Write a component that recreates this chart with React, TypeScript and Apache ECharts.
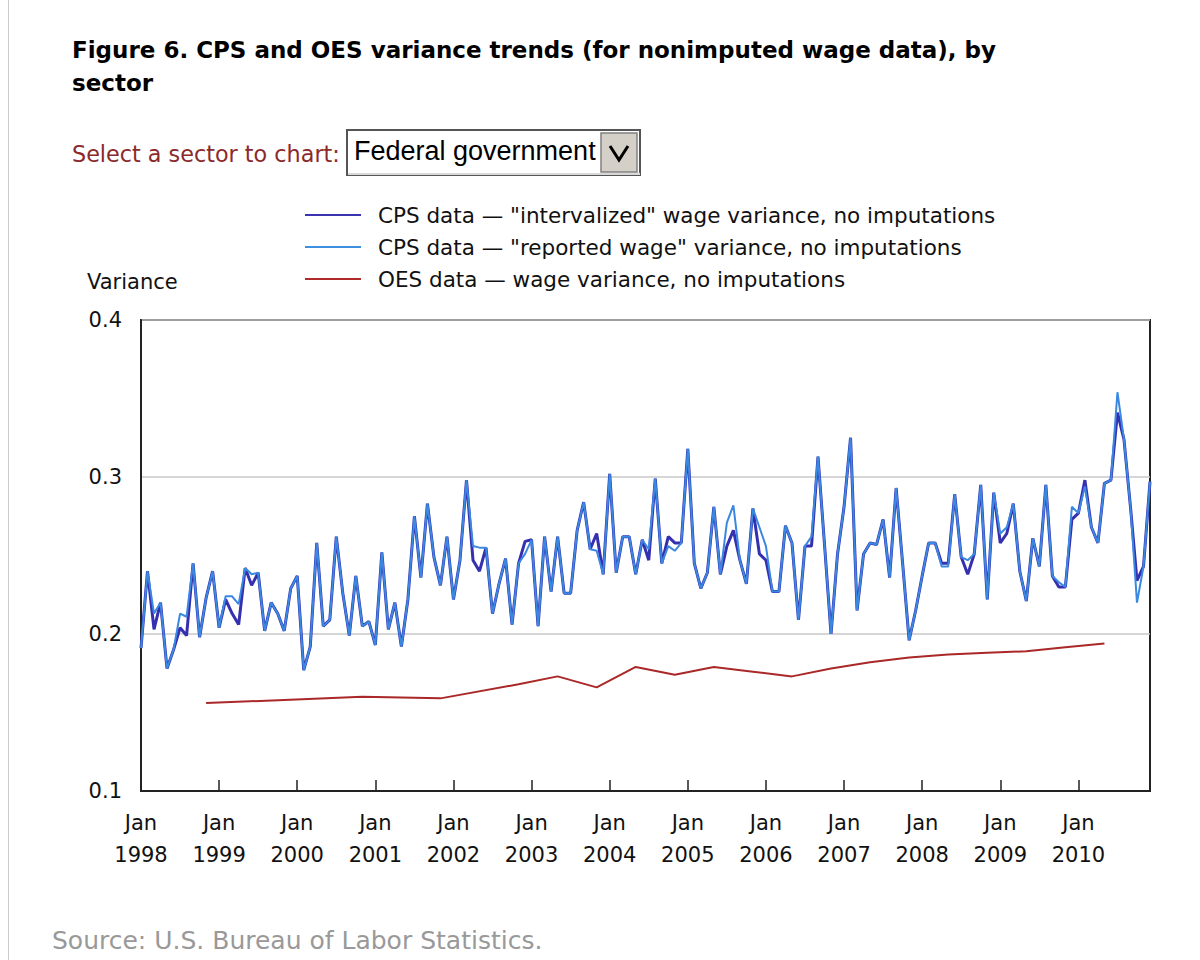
import React, { useEffect, useRef } from "react";
import * as echarts from "echarts";

const years = [1998, 1999, 2000, 2001, 2002, 2003, 2004, 2005, 2006, 2007, 2008, 2009, 2010];
const monthNums = ["01", "02", "03", "04", "05", "06", "07", "08", "09", "10", "11", "12"];
const categories: string[] = [];
years.forEach((y) => monthNums.forEach((m) => categories.push(`${y}-${m}`)));

const intervalized = [
  0.191, 0.240, 0.203, 0.220, 0.178, 0.190, 0.204, 0.199, 0.245, 0.198, 0.223, 0.240,
  0.204, 0.222, 0.213, 0.206, 0.242, 0.231, 0.239, 0.202, 0.220, 0.213, 0.202, 0.229,
  0.237, 0.177, 0.192, 0.258, 0.205, 0.209, 0.262, 0.226, 0.199, 0.237, 0.205, 0.208,
  0.193, 0.252, 0.203, 0.220, 0.192, 0.222, 0.275, 0.236, 0.283, 0.249, 0.231, 0.262,
  0.222, 0.247, 0.298, 0.247, 0.240, 0.255, 0.213, 0.232, 0.248, 0.206, 0.245, 0.259,
  0.260, 0.205, 0.262, 0.227, 0.262, 0.226, 0.226, 0.266, 0.284, 0.254, 0.264, 0.238,
  0.302, 0.239, 0.262, 0.262, 0.238, 0.260, 0.247, 0.299, 0.245, 0.262, 0.258, 0.258,
  0.318, 0.245, 0.229, 0.239, 0.281, 0.238, 0.256, 0.266, 0.247, 0.232, 0.280, 0.251,
  0.247, 0.227, 0.227, 0.269, 0.258, 0.209, 0.256, 0.256, 0.313, 0.257, 0.200, 0.251,
  0.281, 0.325, 0.215, 0.251, 0.258, 0.257, 0.273, 0.236, 0.293, 0.245, 0.196, 0.215,
  0.237, 0.258, 0.258, 0.245, 0.245, 0.289, 0.249, 0.238, 0.251, 0.295, 0.222, 0.290,
  0.258, 0.264, 0.283, 0.240, 0.221, 0.261, 0.243, 0.295, 0.237, 0.230, 0.230, 0.273,
  0.277, 0.298, 0.268, 0.258, 0.296, 0.298, 0.341, 0.324, 0.281, 0.234, 0.243, 0.297,
];

const reported = [
  0.191, 0.240, 0.213, 0.220, 0.178, 0.190, 0.213, 0.211, 0.245, 0.198, 0.223, 0.240,
  0.204, 0.224, 0.224, 0.219, 0.242, 0.238, 0.239, 0.202, 0.220, 0.213, 0.202, 0.229,
  0.237, 0.177, 0.192, 0.258, 0.205, 0.209, 0.262, 0.226, 0.199, 0.237, 0.205, 0.208,
  0.193, 0.252, 0.203, 0.220, 0.192, 0.222, 0.275, 0.236, 0.283, 0.249, 0.231, 0.262,
  0.222, 0.247, 0.298, 0.256, 0.255, 0.255, 0.213, 0.232, 0.248, 0.206, 0.245, 0.251,
  0.260, 0.205, 0.262, 0.227, 0.262, 0.226, 0.226, 0.266, 0.284, 0.254, 0.253, 0.238,
  0.302, 0.239, 0.262, 0.262, 0.238, 0.260, 0.254, 0.299, 0.245, 0.256, 0.253, 0.258,
  0.318, 0.245, 0.229, 0.239, 0.281, 0.238, 0.271, 0.282, 0.247, 0.232, 0.280, 0.268,
  0.256, 0.227, 0.227, 0.269, 0.258, 0.209, 0.256, 0.262, 0.313, 0.257, 0.200, 0.251,
  0.281, 0.325, 0.215, 0.251, 0.258, 0.257, 0.273, 0.236, 0.293, 0.245, 0.196, 0.215,
  0.237, 0.258, 0.258, 0.243, 0.243, 0.289, 0.249, 0.247, 0.251, 0.295, 0.222, 0.290,
  0.264, 0.268, 0.283, 0.240, 0.221, 0.261, 0.243, 0.295, 0.237, 0.233, 0.230, 0.281,
  0.277, 0.294, 0.268, 0.258, 0.296, 0.298, 0.354, 0.324, 0.281, 0.220, 0.243, 0.297,
];

const oesMonths = [
  "1998-11", "1999-11", "2000-11", "2001-11", "2002-11", "2003-05", "2003-11",
  "2004-05", "2004-11", "2005-05", "2005-11", "2006-05", "2006-11", "2007-05",
  "2007-11", "2008-05", "2008-11", "2009-05", "2009-11", "2010-05",
];
const oesValues = [
  0.156, 0.158, 0.160, 0.159, 0.168, 0.173, 0.166,
  0.179, 0.174, 0.179, 0.176, 0.173, 0.178, 0.182,
  0.185, 0.187, 0.188, 0.189, 0.1915, 0.194,
];

const yTicks = [0.1, 0.2, 0.3, 0.4];

const seriesNames = [
  'CPS data \u2014 "intervalized" wage variance, no imputations',
  'CPS data \u2014 "reported wage" variance, no imputations',
  "OES data \u2014 wage variance, no imputations",
];

const FONT = "DejaVu Sans";

export default function App() {
  const ref = useRef<HTMLDivElement>(null);

  useEffect(() => {
    if (!ref.current) return;
    const chart = echarts.init(ref.current, null, { renderer: "svg" });
    const oesData = categories.map((c) => {
      const k = oesMonths.indexOf(c);
      return k >= 0 ? oesValues[k] : null;
    });
    const isJan = (_i: number, v: string) => v.endsWith("-01");

    chart.setOption({
      animation: false,
      backgroundColor: "#ffffff",
      textStyle: { fontFamily: FONT },
      grid: {
        left: 141,
        right: 50,
        top: 320,
        bottom: 169,
        show: true,
        borderColor: "#222222",
        borderWidth: 2,
        containLabel: false,
      },
      legend: {
        orient: "vertical",
        left: 305,
        top: 204,
        padding: 0,
        itemWidth: 56,
        itemHeight: 2,
        itemGap: 10,
        icon: "rect",
        selectedMode: false,
        textStyle: {
          fontFamily: FONT,
          fontSize: 21.5,
          color: "#111111",
          padding: [0, 0, 0, 12],
        },
        data: seriesNames,
      },
      xAxis: {
        type: "category",
        data: categories,
        boundaryGap: false,
        axisLine: { show: true, lineStyle: { color: "#222222", width: 2 } },
        axisTick: {
          show: true,
          inside: true,
          length: 11,
          interval: isJan,
          lineStyle: { color: "#222222", width: 1.5 },
        },
        axisLabel: {
          interval: isJan,
          fontFamily: FONT,
          fontSize: 21,
          color: "#111111",
          lineHeight: 32,
          margin: 16,
          formatter: (v: string) => `Jan\n${v.slice(0, 4)}`,
        },
        splitLine: { show: false },
      },
      yAxis: {
        type: "value",
        min: yTicks[0],
        max: yTicks[yTicks.length - 1],
        interval: 0.1,
        axisLine: { show: true, lineStyle: { color: "#222222", width: 2 } },
        axisTick: { show: false },
        axisLabel: {
          fontFamily: FONT,
          fontSize: 21,
          color: "#111111",
          margin: 19,
          formatter: (v: number) => v.toFixed(1),
        },
        splitLine: { show: true, lineStyle: { color: "#c8c8c8", width: 1.5 } },
      },
      series: [
        {
          name: seriesNames[0],
          type: "line",
          data: intervalized,
          symbol: "none",
          color: "#3a34b0",
          lineStyle: { color: "#3530b0", width: 3 },
          z: 2,
        },
        {
          name: seriesNames[1],
          type: "line",
          data: reported,
          symbol: "none",
          color: "#3f8fe0",
          lineStyle: { color: "#3a88e0", width: 2 },
          z: 3,
        },
        {
          name: seriesNames[2],
          type: "line",
          data: oesData,
          connectNulls: true,
          symbol: "none",
          color: "#b02a2a",
          lineStyle: { color: "#aa2828", width: 2 },
          z: 4,
        },
      ],
      graphic: [
        {
          type: "line",
          shape: { x1: 8.5, y1: 0, x2: 8.5, y2: 960 },
          style: { stroke: "#cccccc", lineWidth: 1 },
        },
        {
          type: "text",
          left: 72,
          top: 33,
          style: {
            text: "Figure 6. CPS and OES variance trends (for nonimputed wage data), by\nsector",
            font: `bold 23px "${FONT}"`,
            fill: "#000000",
            lineHeight: 33,
          },
        },
        {
          type: "text",
          left: 72,
          top: 143,
          style: {
            text: "Select a sector to chart:",
            font: `22.3px "${FONT}"`,
            fill: "#8b2a2a",
          },
        },
        {
          type: "rect",
          shape: { x: 347, y: 130, width: 293, height: 45 },
          style: { fill: "#ffffff", stroke: "#555555", lineWidth: 2 },
        },
        {
          type: "line",
          shape: { x1: 348, y1: 174, x2: 640, y2: 174 },
          style: { stroke: "#d8d8d8", lineWidth: 2 },
        },
        {
          type: "rect",
          shape: { x: 601, y: 133, width: 36, height: 39 },
          style: { fill: "#d4d0c8", stroke: "#808080", lineWidth: 1.5 },
        },
        {
          type: "polyline",
          shape: { points: [[610, 146], [619, 160], [628, 146]] },
          style: { stroke: "#000000", lineWidth: 3, fill: "none" },
        },
        {
          type: "text",
          left: 354,
          top: 137,
          style: {
            text: "Federal government",
            font: `27px "Liberation Sans"`,
            fill: "#000000",
          },
        },
        {
          type: "text",
          left: 87,
          top: 271,
          style: {
            text: "Variance",
            font: `21px "${FONT}"`,
            fill: "#111111",
          },
        },
        {
          type: "text",
          left: 52,
          top: 928,
          style: {
            text: "Source: U.S. Bureau of Labor Statistics.",
            font: `25px "${FONT}"`,
            fill: "#999999",
          },
        },
      ],
    });
    return () => chart.dispose();
  }, []);

  return (
    <div
      ref={ref}
      style={{ position: "absolute", left: 0, top: 0, width: 1200, height: 960 }}
    />
  );
}
